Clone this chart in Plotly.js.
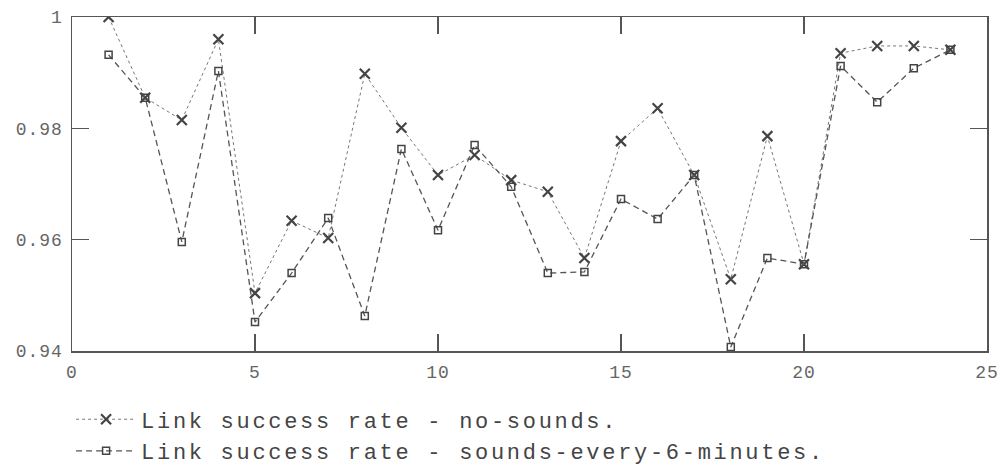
<!DOCTYPE html>
<html>
<head>
<meta charset="utf-8">
<script src="https://cdn.plot.ly/plotly-3.0.1.min.js"></script>
<style>
html,body{margin:0;padding:0;background:#fff;}
#chart{width:998px;height:467px;}
.legendtext{letter-spacing:2.7px;}
.xtick text,.ytick text{letter-spacing:1px;}
</style>
</head>
<body>
<div id="chart"></div>
<script>
const xs = [1,2,3,4,5,6,7,8,9,10,11,12,13,14,15,16,17,18,19,20,21,22,23,24];
const noSounds = [1.0,0.9855,0.9815,0.996,0.9504,0.9634,0.9603,0.9898,0.9801,0.9716,0.9752,0.9707,0.9686,0.9567,0.9777,0.9836,0.9716,0.9529,0.9786,0.9556,0.9935,0.9948,0.9948,0.9941];
const sounds6 = [0.9932,0.9855,0.9596,0.9903,0.9452,0.954,0.9639,0.9463,0.9763,0.9617,0.977,0.9695,0.954,0.9542,0.9673,0.9637,0.9716,0.9407,0.9567,0.9556,0.9912,0.9847,0.9908,0.9941];
const seriesNames = ["Link success rate - no-sounds.", "Link success rate - sounds-every-6-minutes."];
const xTicks = [0,5,10,15,20,25];
const yTicks = [0.94,0.96,0.98,1];
const yTickText = ["0.94","0.96","0.98","1"];

const font = "Liberation Mono, Courier New, monospace";
const traces = [
  {x: xs, y: noSounds, name: seriesNames[0], mode: 'lines+markers',
   line: {color: '#777', width: 1, dash: 'dot'},
   marker: {symbol: 'x-thin-open', size: 10, color: '#444', line: {color: '#444', width: 2.2}}},
  {x: xs, y: sounds6, name: seriesNames[1], mode: 'lines+markers',
   line: {color: '#555', width: 1.3, dash: '6px,4px'},
   marker: {symbol: 'square-open', size: 7, color: '#444', line: {color: '#444', width: 1.5}}}
];
const axisCommon = {ticks: 'inside', ticklen: 17, tickcolor: '#555', tickwidth: 1.5,
  showline: true, linecolor: '#555', linewidth: 1.5, mirror: 'ticks', showgrid: false, zeroline: false,
  ticklabeloverflow: 'allow', tickfont: {family: font, size: 18, color: '#666'}};
const layout = {
  width: 998, height: 467,
  margin: {l: 72, r: 11, t: 17, b: 116, autoexpand: false},
  paper_bgcolor: '#fff', plot_bgcolor: '#fff',
  font: {family: font, size: 14, color: '#444'},
  xaxis: Object.assign({range: [0,25], tickvals: xTicks, ticklabelstandoff: 4}, axisCommon),
  yaxis: Object.assign({range: [0.94,1.0], tickvals: yTicks, ticktext: yTickText, ticklabelstandoff: 4}, axisCommon),
  showlegend: true,
  legend: {x: -0.001, y: -0.142, xanchor: 'left', yanchor: 'top', orientation: 'v',
           font: {family: font, size: 22, color: '#444'}, tracegroupgap: 0, itemwidth: 60, bgcolor: 'rgba(0,0,0,0)'}
};
Plotly.newPlot('chart', traces, layout, {displayModeBar: false, staticPlot: true});
</script>
</body>
</html>
